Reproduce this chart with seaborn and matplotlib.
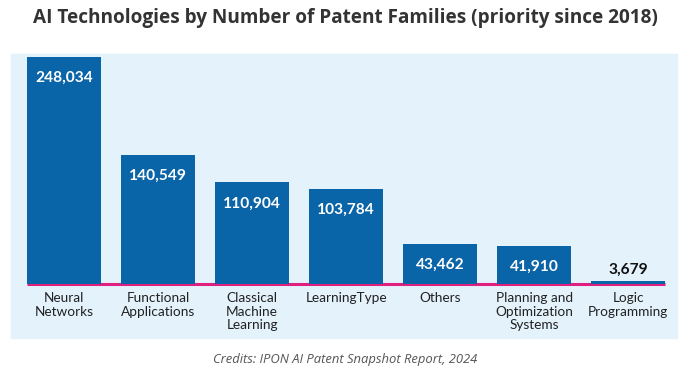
import matplotlib.pyplot as plt
import matplotlib.patches as mpatches
import seaborn as sns

categories = ["Neural\nNetworks", "Functional\nApplications", "Classical\nMachine\nLearning",
              "LearningType", "Others", "Planning and\nOptimization\nSystems", "Logic\nProgramming"]
families = [248034, 140549, 110904, 103784, 43462, 41910, 3679]

BAR = "#0a64a8"
PANEL = "#e4f2fc"
PINK = "#e0207f"

sns.set_theme(style="white")
plt.rcParams["font.family"] = ["Lato", "DejaVu Sans"]

fig = plt.figure(figsize=(6.9, 3.79), dpi=100)
W, H = 690, 379

# light blue panel behind the chart
fig.patches.append(mpatches.Rectangle((11 / W, 1 - 338 / H), 666 / W, 284 / H,
                                      transform=fig.transFigure, color=PANEL, zorder=-1))

ax = fig.add_axes([11 / W, 1 - 284 / H, 666 / W, 230 / H])
ax.set_zorder(1)
ax.set_facecolor("none")
sns.barplot(x=categories, y=families, color=BAR, saturation=1, width=0.78,
            edgecolor=BAR, linewidth=0, ax=ax)
ax.set_xlim(-0.564, 6.52)
ax.set_ylim(0, max(families) * 1.013)

# pink baseline under the bars
left = ax.patches[0].get_x()
right = ax.patches[-1].get_x() + ax.patches[-1].get_width()
ax.plot([left, right], [0, 0], color=PINK, lw=2.2, solid_capstyle="butt", zorder=1, clip_on=False)

for bar, v in zip(ax.patches, families):
    bar.set_zorder(2)
    x = bar.get_x() + bar.get_width() / 2
    if v > 20000:
        ax.annotate(f"{v:,}", (x, v), xytext=(0, -10), textcoords="offset points",
                    ha="center", va="top", color="white", fontsize=11.2, fontweight="bold")
    else:
        ax.annotate(f"{v:,}", (x, v), xytext=(0, 3), textcoords="offset points",
                    ha="center", va="bottom", color="#111111", fontsize=11.2, fontweight="bold")

ax.tick_params(axis="x", length=0, pad=6, labelsize=9.8, labelcolor="#222222")
ax.set_yticks([])
ax.set_xlabel("")
ax.set_ylabel("")
for lab in ax.get_xticklabels():
    lab.set_linespacing(1.15)
sns.despine(ax=ax, left=True, bottom=True)

fig.text(0.5, 1 - 18 / H, "AI Technologies by Number of Patent Families (priority since 2018)",
         ha="center", va="center", fontsize=13.7, fontweight="bold", color="#333333",
         family=["Open Sans", "DejaVu Sans"])
fig.text(0.5, 1 - 360 / H, "Credits: IPON AI Patent Snapshot Report, 2024",
         ha="center", va="center", fontsize=9.4, style="italic", color="#555555",
         family=["Open Sans", "DejaVu Sans"])

fig.savefig("out.png", dpi=100)
